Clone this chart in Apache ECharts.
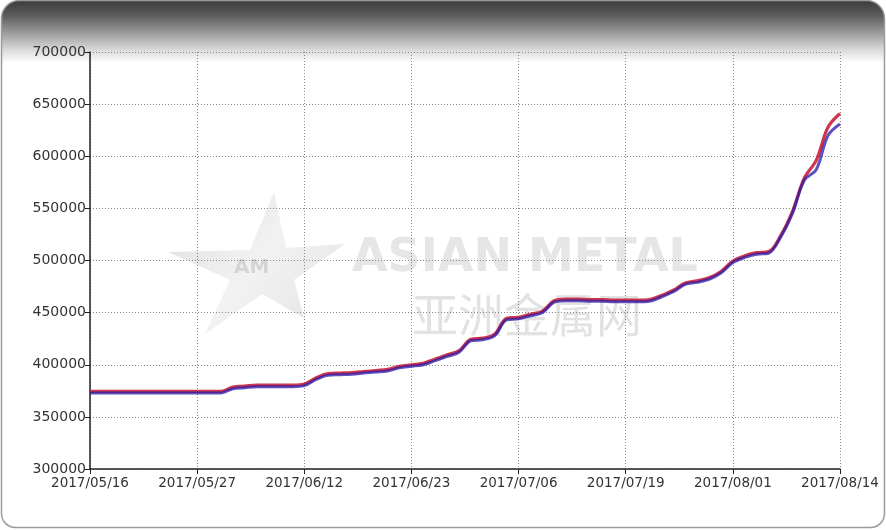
<!DOCTYPE html>
<html>
<head>
<meta charset="utf-8">
<script src="https://cdn.jsdelivr.net/npm/echarts@6/dist/echarts.min.js"></script>
<style>html,body{margin:0;padding:0;background:#fff;}#c{width:886px;height:530px;}</style>
</head>
<body>
<div id="c"></div>
<script>
var categories = [
 '2017/05/16','2017/05/17','2017/05/18','2017/05/19','2017/05/22','2017/05/23','2017/05/24','2017/05/25','2017/05/26','2017/05/27',
 '2017/05/31','2017/06/01','2017/06/02','2017/06/05','2017/06/06','2017/06/07','2017/06/08','2017/06/09','2017/06/12','2017/06/13',
 '2017/06/14','2017/06/15','2017/06/16','2017/06/19','2017/06/20','2017/06/21','2017/06/22','2017/06/23','2017/06/26','2017/06/27',
 '2017/06/28','2017/06/29','2017/06/30','2017/07/03','2017/07/04','2017/07/05','2017/07/06','2017/07/07','2017/07/10','2017/07/11',
 '2017/07/12','2017/07/13','2017/07/14','2017/07/17','2017/07/18','2017/07/19','2017/07/20','2017/07/21','2017/07/24','2017/07/25',
 '2017/07/26','2017/07/27','2017/07/28','2017/07/31','2017/08/01','2017/08/02','2017/08/03','2017/08/04','2017/08/07','2017/08/08',
 '2017/08/09','2017/08/10','2017/08/11','2017/08/14'
];
var bluePrices = [
 373000,373000,373000,373000,373000,373000,373000,373000,373000,373000,
 373000,373000,377000,378000,379000,379000,379000,379000,380000,386000,
 390000,390500,391000,392000,393000,394000,397000,398500,400000,404000,
 408000,412000,423000,424000,428000,443000,444000,447000,450000,460000,
 461500,461500,461000,461000,460500,460500,460500,461000,465000,470000,
 477000,479000,482000,488000,498000,503000,506000,507000,522000,545000,
 577000,587000,620000,631000
];
var redPrices = [
 374500,374500,374500,374500,374500,374500,374500,374500,374500,374500,
 374500,374500,378500,379500,380500,380500,380500,380500,381500,387500,
 391500,392000,392500,393500,394500,395500,398500,400000,401500,405500,
 409500,413500,424500,425500,429500,444500,445500,448500,451500,461500,
 463000,463000,462500,462500,462000,462000,462000,462500,466500,471500,
 478500,480500,483500,489500,499500,504500,507500,508500,523500,547000,
 579000,596000,628000,641000
];
var yTicks = {min: 300000, max: 700000, interval: 50000};

var chart = echarts.init(document.getElementById('c'));
var font = 'DejaVu Sans';
chart.setOption({
  animation: false,
  graphic: [
    {type: 'rect', z: -100, shape: {x: 1.5, y: 0.5, width: 883, height: 527, r: [18, 18, 14, 14]},
     style: {fill: new echarts.graphic.LinearGradient(0, 0, 0, 1, [
        {offset: 0, color: '#3a3a3a'},
        {offset: 0.03, color: '#5c5c5c'},
        {offset: 0.065, color: '#a0a0a0'},
        {offset: 0.095, color: '#dadada'},
        {offset: 0.12, color: '#ffffff'},
        {offset: 1, color: '#ffffff'}]), stroke: '#9a9a9a', lineWidth: 1.5}},
    {type: 'polygon', z: -50, shape: {points: [[274,192],[286,248],[345,244],[294,280],[304,318],[262,294],[205,334],[230,280],[168,252],[250,250]]},
     style: {fill: new echarts.graphic.LinearGradient(0, 0, 1, 1, [
        {offset: 0, color: '#dedede'}, {offset: 0.5, color: '#f2f2f2'}, {offset: 1, color: '#e2e2e2'}])}},
    {type: 'text', z: -40, left: 234, top: 258, style: {text: 'AM', font: 'bold 20px "DejaVu Sans"', fill: '#d4d4d4'}},
    {type: 'text', z: -40, left: 352, top: 236, style: {text: 'ASIAN METAL', font: 'bold 46px "DejaVu Sans"', fill: '#e6e6e6'}},
    {type: 'text', z: -40, left: 412, top: 292, style: {text: '亚洲金属网', font: '46px "Noto Sans CJK SC"', fill: '#e2e2e2'}}
  ],
  grid: {left: 90, right: 46, top: 52, bottom: 61},
  xAxis: {
    type: 'category', data: categories, boundaryGap: false,
    axisLine: {lineStyle: {color: '#222', width: 1.5}},
    axisTick: {show: true, length: 5, interval: 8, lineStyle: {color: '#222'}},
    axisLabel: {interval: 8, margin: 7, color: '#333', fontFamily: font, fontSize: 13.5},
    splitLine: {show: true, interval: 8, lineStyle: {color: '#888', type: [1, 2], width: 1}}
  },
  yAxis: {
    type: 'value', min: yTicks.min, max: yTicks.max, interval: yTicks.interval,
    axisLine: {show: true, lineStyle: {color: '#222', width: 1.5}},
    axisTick: {show: true, length: 5, lineStyle: {color: '#222'}},
    axisLabel: {margin: 4, color: '#333', fontFamily: font, fontSize: 14, formatter: function (v) { return String(v); }},
    splitLine: {show: true, lineStyle: {color: '#888', type: [1, 2], width: 1}}
  },
  series: [
    {type: 'line', data: redPrices, showSymbol: false, smooth: 0.35, lineStyle: {color: '#c8203a', width: 3.2, opacity: 0.9}, z: 3},
    {type: 'line', data: bluePrices, showSymbol: false, smooth: 0.35, lineStyle: {color: '#2a18a8', width: 3, opacity: 0.75}, z: 4}
  ]
});
</script>
</body>
</html>
